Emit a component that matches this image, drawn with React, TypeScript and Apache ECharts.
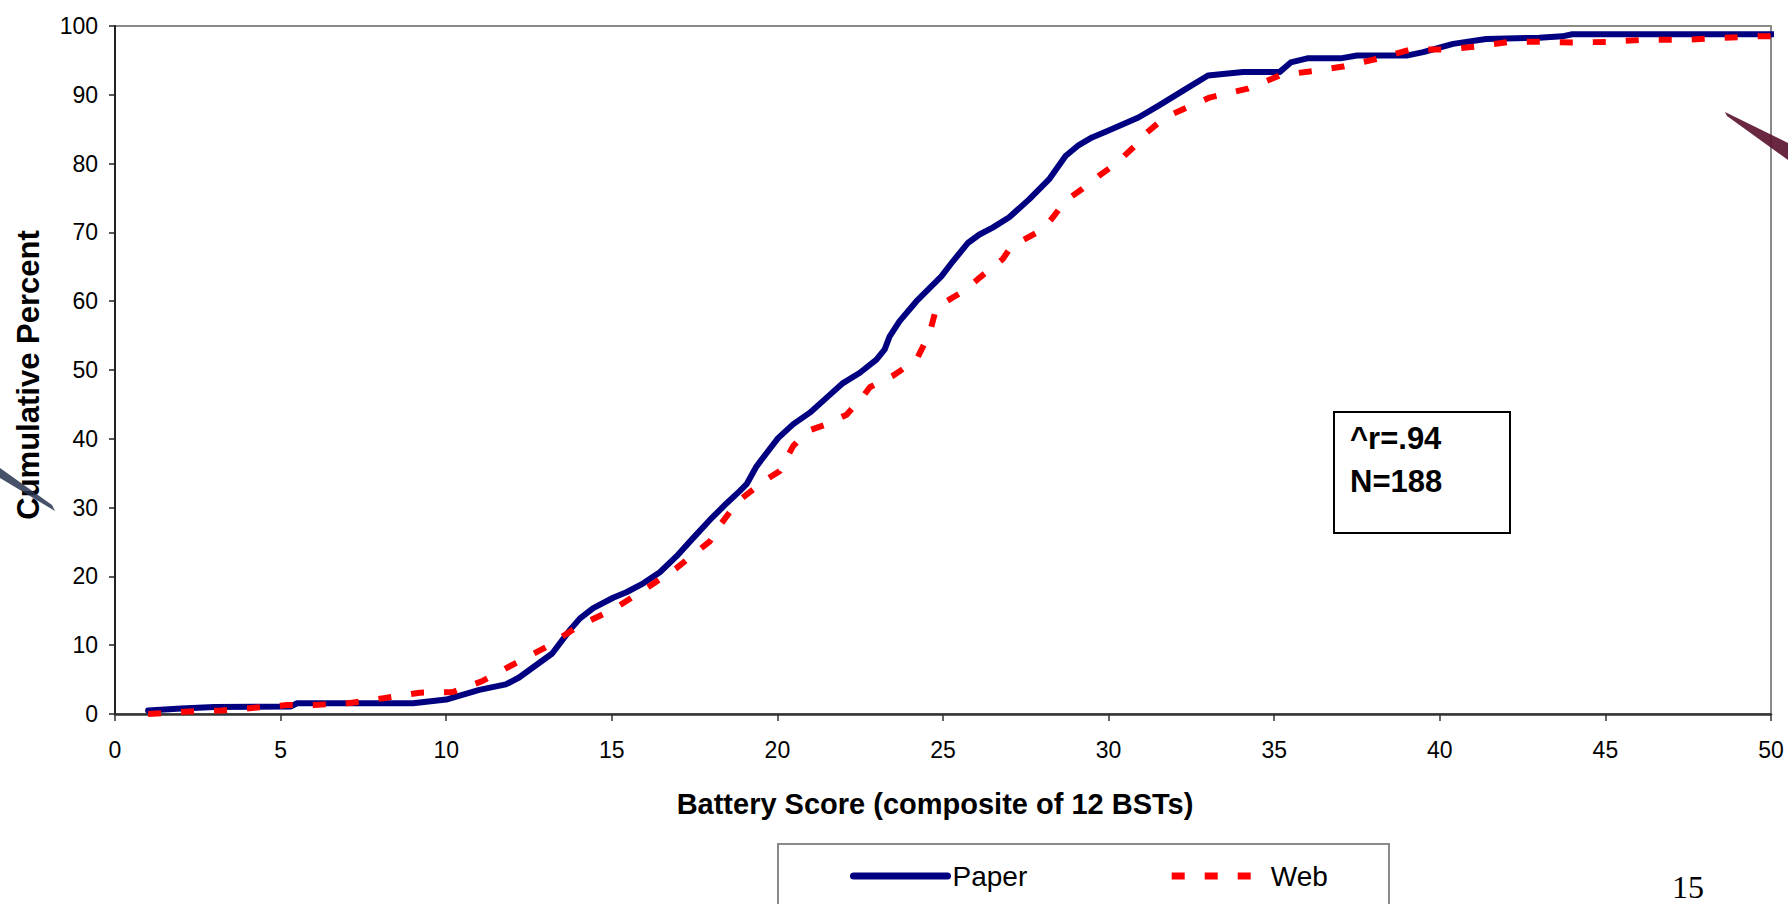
import React, { useEffect, useRef } from "react";
import * as echarts from "echarts";

// Battery score (x) vs cumulative percent (y)
const paperPoints: [number, number][] = [
  [1, 0.5], [2, 0.8], [3, 1.0], [5.3, 1.1], [5.5, 1.55], [9, 1.55], [10, 2.1],
  [11, 3.5], [11.8, 4.3], [12.2, 5.3], [13.2, 8.8], [13.75, 12.3], [14.04, 13.9],
  [14.44, 15.4], [15.04, 16.9], [15.44, 17.7], [15.95, 19.0], [16.45, 20.6],
  [16.95, 22.9], [17.46, 25.6], [17.96, 28.2], [18.46, 30.6], [18.86, 32.4],
  [19.07, 33.4], [19.37, 36.0], [19.67, 37.9], [20.02, 40.1], [20.47, 42.1],
  [20.98, 43.8], [21.48, 45.95], [21.98, 48.1], [22.49, 49.6], [22.99, 51.5],
  [23.24, 53.0], [23.39, 54.9], [23.69, 57.1], [24.2, 60.0], [24.95, 63.6],
  [25.3, 65.8], [25.76, 68.5], [26.1, 69.7], [26.5, 70.7], [27.0, 72.2],
  [27.6, 74.8], [28.2, 77.7], [28.7, 81.1], [29.1, 82.7], [29.5, 83.8],
  [30.0, 84.8], [30.9, 86.7], [31.5, 88.4], [32.25, 90.6], [33.0, 92.8],
  [34.06, 93.3], [35.16, 93.3], [35.5, 94.7], [36, 95.3], [37, 95.3],
  [37.5, 95.7], [39, 95.7], [39.5, 96.2], [40.4, 97.4], [41.4, 98.1],
  [43, 98.3], [43.7, 98.5], [44, 98.8], [51, 98.8],
];

const webPoints: [number, number][] = [
  [1, 0], [2.4, 0.4], [3.2, 0.5], [4.2, 0.9], [5.2, 1.3], [6, 1.3], [7.1, 1.6],
  [8.1, 2.3], [9.2, 3.1], [10.2, 3.2], [11.1, 4.8], [12.1, 7.4], [13.05, 9.8],
  [14, 12.8], [15.04, 15.2], [16.05, 18.3], [16.95, 21.2], [17.96, 25.1],
  [18.2, 27.0], [18.77, 30.7], [19.07, 31.9], [19.67, 34.1], [20.07, 35.3],
  [20.47, 38.9], [20.88, 41.1], [21.48, 42.1], [22.09, 43.5], [22.59, 46.2],
  [22.79, 47.5], [23.5, 49.2], [24.2, 51.5], [24.6, 55.4], [24.8, 59.1],
  [25.7, 61.7], [26.1, 63.4], [26.8, 66.1], [27.07, 68.0], [28.0, 70.4],
  [28.27, 71.9], [28.7, 74.6], [29.2, 76.3], [29.7, 78.2], [30.2, 79.9],
  [30.8, 82.6], [31.1, 84.3], [31.7, 86.7], [32.25, 87.9], [33.05, 89.6],
  [34.2, 90.9], [35.16, 92.8], [36.07, 93.4], [37.08, 94.1], [38.08, 95.2],
  [39.14, 96.6], [40.1, 96.6], [41.1, 97.0], [42.1, 97.7], [43.1, 97.7],
  [44, 97.6], [45.1, 97.7], [46.2, 98.0], [47.5, 98.0], [48.6, 98.3],
  [49.6, 98.5], [50, 98.5],
];

const seriesNames = ["Paper", "Web"];
const xTitle = "Battery Score (composite of 12 BSTs)";
const yTitle = "Cumulative Percent";
const noteLines = ["^r=.94", "N=188"];
const pageNumber = "15";

const FONT = "'Liberation Sans', Arial, sans-serif";

export default function App() {
  const ref = useRef<HTMLDivElement>(null);

  useEffect(() => {
    if (!ref.current) return;
    const chart = echarts.init(ref.current, null, { renderer: "svg" });
    chart.setOption({
      animation: false,
      backgroundColor: "#ffffff",
      grid: {
        left: 115,
        right: 17,
        top: 26,
        bottom: 190,
        containLabel: false,
        outerBoundsMode: "none",
        show: true,
        borderColor: "#8a8a8a",
        borderWidth: 2,
        backgroundColor: "transparent",
      },
      xAxis: {
        type: "value",
        min: 0,
        max: 50,
        interval: 5,
        axisLine: { show: true, onZero: false, lineStyle: { color: "#333333", width: 2.5 } },
        axisTick: { show: true, inside: false, length: 7, lineStyle: { color: "#333333", width: 1.5 } },
        axisLabel: { color: "#000", fontSize: 23, fontFamily: FONT, margin: 24 },
        splitLine: { show: false },
      },
      yAxis: {
        type: "value",
        min: 0,
        max: 100,
        interval: 10,
        axisLine: { show: true, onZero: false, lineStyle: { color: "#222222", width: 2 } },
        axisTick: { show: true, inside: false, length: 6, lineStyle: { color: "#222222", width: 1.5 } },
        axisLabel: { color: "#000", fontSize: 23, fontFamily: FONT, margin: 17 },
        splitLine: { show: false },
      },
      legend: {
        left: 850,
        top: 862,
        padding: 0,
        itemGap: 141,
        itemWidth: 94,
        itemHeight: 14,
        data: seriesNames,
        lineStyle: { width: 7 },
        itemStyle: { opacity: 0, borderWidth: 0 },
        textStyle: { color: "#000", fontSize: 28, fontFamily: FONT },
      },
      series: [
        {
          name: seriesNames[0],
          type: "line",
          data: paperPoints,
          showSymbol: false,
          symbol: "none",
          clip: false,
          lineStyle: { color: "#000080", width: 6, join: "round", cap: "round" },
          itemStyle: { color: "#000080" },
          z: 2,
        },
        {
          name: seriesNames[1],
          type: "line",
          data: webPoints,
          showSymbol: false,
          symbol: "none",
          lineStyle: { color: "#ff0000", width: 6, type: [13, 20], cap: "butt" },
          itemStyle: { color: "#ff0000" },
          z: 3,
        },
      ],
      graphic: [
        {
          type: "text",
          x: 28,
          y: 375,
          rotation: Math.PI / 2,
          style: {
            text: yTitle,
            fontSize: 31,
            fontWeight: "bold",
            fontFamily: FONT,
            fill: "#000",
            align: "center",
            verticalAlign: "middle",
          },
        },
        {
          type: "text",
          x: 935,
          y: 804,
          style: {
            text: xTitle,
            fontSize: 29,
            fontWeight: "bold",
            fontFamily: FONT,
            fill: "#000",
            align: "center",
            verticalAlign: "middle",
          },
        },
        {
          type: "rect",
          shape: { x: 1334, y: 412, width: 176, height: 121 },
          style: { fill: "#ffffff", stroke: "#000000", lineWidth: 2 },
          z: 10,
        },
        {
          type: "text",
          x: 1350,
          y: 438,
          z: 11,
          style: {
            text: noteLines[0],
            fontSize: 31,
            fontWeight: "bold",
            fontFamily: FONT,
            fill: "#000",
            align: "left",
            verticalAlign: "middle",
          },
        },
        {
          type: "text",
          x: 1350,
          y: 481,
          z: 11,
          style: {
            text: noteLines[1],
            fontSize: 31,
            fontWeight: "bold",
            fontFamily: FONT,
            fill: "#000",
            align: "left",
            verticalAlign: "middle",
          },
        },
        {
          type: "rect",
          shape: { x: 778, y: 844, width: 611, height: 80 },
          style: { fill: "transparent", stroke: "#8a8a8a", lineWidth: 2 },
          z: 0,
        },
        {
          type: "text",
          x: 1672,
          y: 903,
          style: {
            text: pageNumber,
            fontSize: 32,
            fontFamily: "'Liberation Serif', 'Times New Roman', serif",
            fill: "#000",
            align: "left",
            verticalAlign: "bottom",
          },
        },
        {
          type: "polygon",
          shape: { points: [[0, 468], [0, 478], [55, 511], [52, 505]] },
          style: { fill: "#27324f", opacity: 0.85 },
        },
        {
          type: "polygon",
          shape: { points: [[1725, 112], [1788, 143], [1788, 160], [1727, 116]] },
          style: { fill: "#5a0f2c", opacity: 0.9 },
        },
      ],
    });
    return () => chart.dispose();
  }, []);

  return (
    <div
      ref={ref}
      style={{ position: "absolute", left: 0, top: 0, width: 1788, height: 904 }}
    />
  );
}
